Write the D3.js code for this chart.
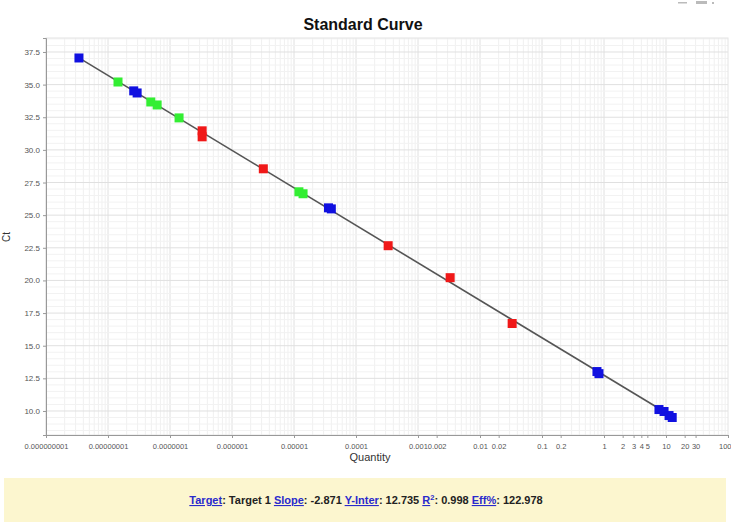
<!DOCTYPE html>
<html>
<head>
<meta charset="utf-8">
<script src="https://cdn.jsdelivr.net/npm/d3@7"></script>
<style>
  body { margin: 0; background: #fff; font-family: "Liberation Sans", Arial, sans-serif; }
  .tick text { fill: #555; font-size: 8px; }
  .xaxis .tick text { font-size: 7.5px; }
  .tick line, .domain { stroke: #999; }
</style>
</head>
<body>
<div id="chart"></div>
<script>
// Standard curve data
var quantity = [3.4e-9, 1.45e-8, 2.6e-8, 2.95e-8, 4.9e-8, 6.2e-8, 1.4e-7, 3.3e-7, 3.3e-7,
                3.2e-6, 1.2e-5, 1.4e-5, 3.6e-5, 4.0e-5, 3.3e-4, 3.3e-3, 3.3e-2,
                0.77, 0.83, 7.7, 9.3, 11.2, 12.6];
var ct = [37.04, 35.2, 34.52, 34.36, 33.67, 33.44, 32.45, 31.46, 31.0,
          28.55, 26.79, 26.64, 25.56, 25.48, 22.66, 20.21, 16.7,
          13.02, 12.86, 10.11, 9.96, 9.65, 9.5];
var group = ["b", "g", "b", "b", "g", "g", "g", "r", "r",
             "r", "g", "g", "b", "b", "r", "r", "r",
             "b", "b", "b", "b", "b", "b"];
var groupColors = { b: "#1010e0", g: "#33ee33", r: "#f01818" };

var yTicks = [10.0, 12.5, 15.0, 17.5, 20.0, 22.5, 25.0, 27.5, 30.0, 32.5, 35.0, 37.5];
var xTicks = [1e-9, 1e-8, 1e-7, 1e-6, 1e-5, 1e-4, 0.001, 0.002, 0.01, 0.02, 0.1, 0.2,
              1, 2, 3, 4, 5, 10, 20, 30, 100];
var xTickLabels = ["0.000000001", "0.00000001", "0.0000001", "0.000001", "0.00001", "0.0001",
                   "0.001", "0.002", "0.01", "0.02", "0.1", "0.2",
                   "1", "2", "3", "4", "5", "10", "20", "30", "100"];

var slope = -2.871, yInter = 12.735, r2 = 0.998, eff = 122.978;

var svgWidth = 731, svgHeight = 522;
var margin = { top: 38, right: 3, bottom: 87, left: 46 };
var width = svgWidth - margin.left - margin.right;
var height = svgHeight - margin.top - margin.bottom;

var svg = d3.select("#chart").append("svg")
    .attr("width", svgWidth)
    .attr("height", svgHeight);

var chartGroup = svg.append("g")
    .attr("transform", `translate(${margin.left}, ${margin.top})`);

var x = d3.scaleLog().domain([1e-9, 100]).range([0, width]);
var y = d3.scaleLinear().domain([8.16, 38.57]).range([height, 0]);

// grid: minor verticals at 1..9 per decade, horizontals every 0.5
var minorX = [];
for (var e = -9; e < 2; e++) {
  for (var m = 1; m < 10; m++) minorX.push(m * Math.pow(10, e));
}
chartGroup.append("g").selectAll("line")
  .data(minorX).enter().append("line")
  .attr("x1", d => x(d)).attr("x2", d => x(d))
  .attr("y1", 0).attr("y2", height)
  .attr("stroke", d => Math.abs(Math.log10(d) % 1) < 1e-9 ? "#e0e0e0" : "#f0f0f0")
  .attr("stroke-width", 1);

var minorY = d3.range(8.5, 38.6, 0.5);
chartGroup.append("g").selectAll("line")
  .data(minorY).enter().append("line")
  .attr("x1", 0).attr("x2", width)
  .attr("y1", d => y(d)).attr("y2", d => y(d))
  .attr("stroke", d => (d % 2.5 === 0) ? "#e0e0e0" : "#f2f2f2")
  .attr("stroke-width", 1);

// frame
chartGroup.append("rect")
  .attr("width", width).attr("height", height)
  .attr("fill", "none").attr("stroke", "#e4e4e4");

// axes
chartGroup.append("g")
  .attr("class", "xaxis")
  .attr("transform", `translate(0, ${height})`)
  .call(d3.axisBottom(x).tickValues(xTicks).tickFormat((d, i) => xTickLabels[i]).tickSize(3))
  .call(g => g.selectAll(".tick text").attr("dy", "1.1em"))
  .call(g => g.selectAll(".tick:last-of-type text").attr("text-anchor", "end").attr("dx", "3"));

chartGroup.append("g")
  .call(d3.axisLeft(y).tickValues(yTicks).tickFormat(d3.format(".1f")).tickSize(3))
  .call(g => g.selectAll(".tick text").attr("dy", "0.32em"));

// regression line across data range
var qExt = d3.extent(quantity);
chartGroup.append("line")
  .attr("x1", x(qExt[0])).attr("y1", y(slope * Math.log10(qExt[0]) + yInter))
  .attr("x2", x(qExt[1])).attr("y2", y(slope * Math.log10(qExt[1]) + yInter))
  .attr("stroke", "#555").attr("stroke-width", 1.6);

// points
var s = 9;
chartGroup.selectAll("rect.pt")
  .data(quantity).enter().append("rect")
  .attr("class", "pt")
  .attr("x", (d, i) => x(d) - s / 2)
  .attr("y", (d, i) => y(ct[i]) - s / 2)
  .attr("width", s).attr("height", s)
  .attr("fill", (d, i) => groupColors[group[i]]);

// title and labels
svg.append("text")
  .attr("x", 363).attr("y", 30)
  .attr("text-anchor", "middle")
  .attr("font-size", "16px").attr("font-weight", "bold")
  .attr("fill", "#111")
  .text("Standard Curve");

svg.append("text")
  .attr("x", 370).attr("y", 461)
  .attr("text-anchor", "middle")
  .attr("font-size", "11px").attr("fill", "#333")
  .text("Quantity");

svg.append("text")
  .attr("transform", "translate(10, 237) rotate(-90)")
  .attr("text-anchor", "middle")
  .attr("font-size", "10px").attr("fill", "#333")
  .text("Ct");

// window icons top right
svg.append("g").attr("fill", "#bbb").selectAll("rect")
  .data([[678, 2, 9, 1.5], [696, 1, 11, 3], [712, 2, 2, 2]]).enter().append("rect")
  .attr("x", d => d[0]).attr("y", d => d[1]).attr("width", d => d[2]).attr("height", d => d[3]);

// summary panel
svg.append("rect")
  .attr("x", 4).attr("y", 478).attr("width", 722).attr("height", 44)
  .attr("fill", "#fcf6cf");

var info = svg.append("text")
  .attr("x", 366).attr("y", 504)
  .attr("text-anchor", "middle")
  .attr("font-size", "11px").attr("font-weight", "bold").attr("fill", "#222");

function link(t) { info.append("tspan").attr("fill", "#2a2acc").attr("text-decoration", "underline").text(t); }
function val(t) { info.append("tspan").attr("fill", "#222").text(t); }
link("Target"); val(": Target 1 ");
link("Slope"); val(": " + slope + " ");
link("Y-Inter"); val(": " + yInter + " ");
link("R"); info.append("tspan").attr("fill", "#2a2acc").attr("font-size", "7.5px").attr("dy", "-4").text("2");
info.append("tspan").attr("dy", "4").attr("fill", "#222").text(": " + r2 + " ");
link("Eff%"); val(": " + eff);
</script>
</body>
</html>
